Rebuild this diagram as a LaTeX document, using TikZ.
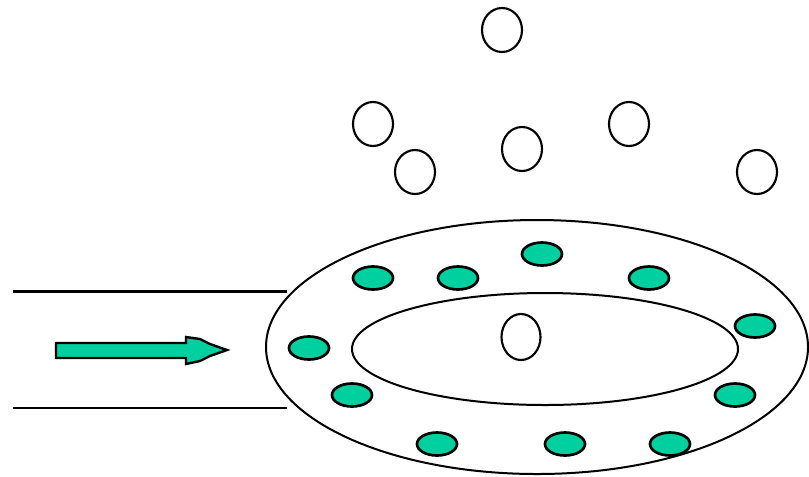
\documentclass[tikz,border=0pt]{standalone}
\definecolor{beadgreen}{RGB}{0,208,160}
\begin{document}
\begin{tikzpicture}[x=0.75pt,y=-0.75pt,
  outline/.style={draw=black,line width=1.5pt},
  bead/.style={draw=black,fill=beadgreen,line width=2pt},
  bubble/.style={draw=black,fill=white,line width=1.6pt}]
\useasboundingbox (0,0) rectangle (809,476);
\fill[white] (0,0) rectangle (809,476);
% tube walls
\draw[outline,line width=2.2pt] (13,291.5) -- (287,291.5);
\draw[outline,line width=2.2pt] (13,408) -- (287,408);
% rings
\draw[outline] (537,347) ellipse (271 and 127);
\draw[outline] (545,349) ellipse (193 and 56);
% flow arrow
\draw[draw=black,fill=beadgreen,line width=1.8pt]
  (56,343) -- (186,343) -- (186,337) -- (200,339) -- (210,344) -- (227,350)
  -- (210,356) -- (200,361) -- (186,364) -- (186,358) -- (56,358) -- cycle;
% beads
\foreach \x/\y in {542/254,373/278,458/278,649/278,755/326,309/348,352/395,735/395,437/444,565/444,670/444}
  \draw[bead] (\x,\y) ellipse (20 and 11.5);
% bubbles
\foreach \x/\y in {502/30,373/124,415/172,522/149,629/124,757/172}
  \draw[bubble] (\x,\y) ellipse (20 and 22);
\draw[bubble] (521,337) ellipse (19.5 and 23);
\end{tikzpicture}
\end{document}
